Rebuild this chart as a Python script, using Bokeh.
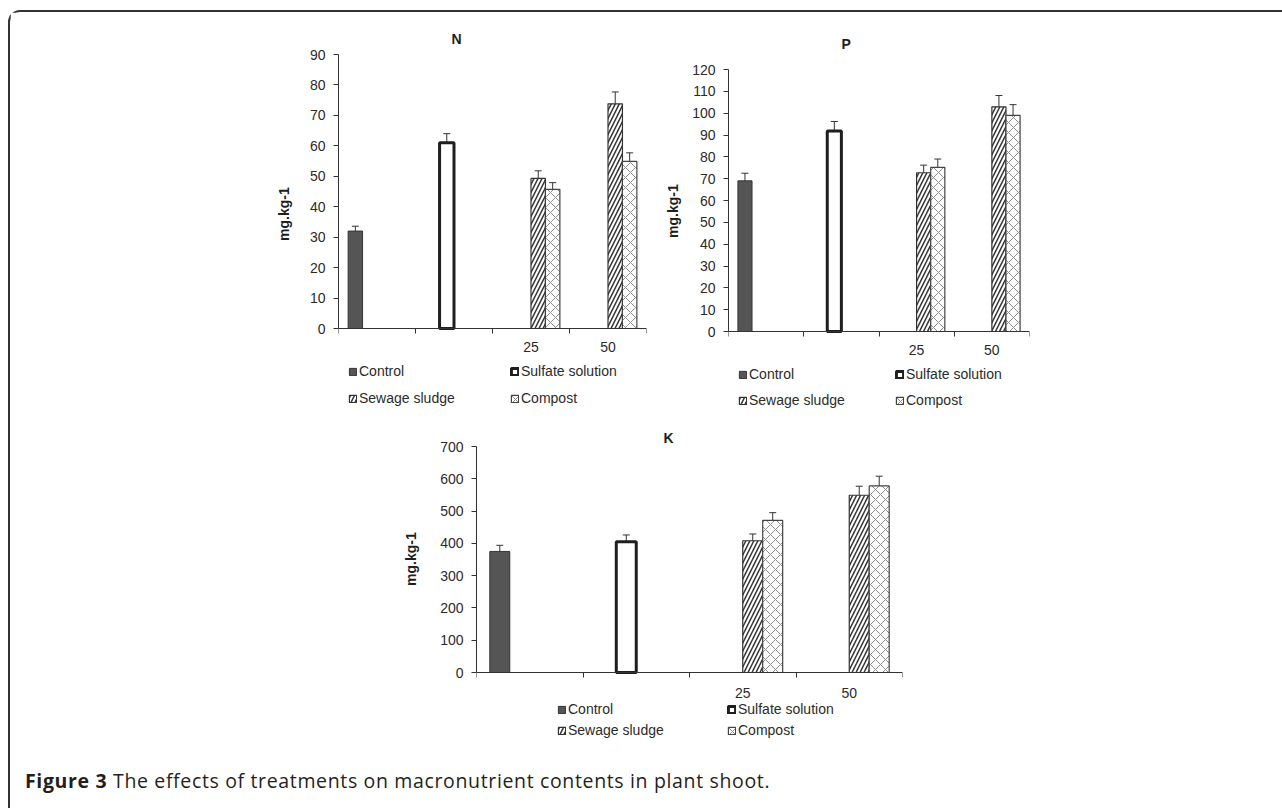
import pandas as pd
from bokeh.plotting import figure
from bokeh.models import (ColumnDataSource, Whisker, TeeHead, FixedTicker, SingleIntervalTicker,
                          Legend, LegendItem, Div, Range1d, Title)
from bokeh.layouts import row, column
from bokeh.embed import file_html
from bokeh.resources import INLINE

nan = float("nan")

# ---------------- data ----------------
categories = ["", "", "25", "50"]
series = ["Control", "Sulfate solution", "Sewage sludge", "Compost"]

# N (mg.kg-1)
n_control = [32.0, nan, nan, nan]
n_sulfate = [nan, 61.0, nan, nan]
n_sewage = [nan, nan, 49.3, 73.8]
n_compost = [nan, nan, 45.7, 54.9]
n_control_err = [1.6, nan, nan, nan]
n_sulfate_err = [nan, 3.0, nan, nan]
n_sewage_err = [nan, nan, 2.5, 3.9]
n_compost_err = [nan, nan, 2.2, 2.8]

# P (mg.kg-1)
p_control = [69.0, nan, nan, nan]
p_sulfate = [nan, 91.8, nan, nan]
p_sewage = [nan, nan, 72.7, 102.9]
p_compost = [nan, nan, 75.2, 99.0]
p_control_err = [3.5, nan, nan, nan]
p_sulfate_err = [nan, 4.4, nan, nan]
p_sewage_err = [nan, nan, 3.5, 5.2]
p_compost_err = [nan, nan, 3.8, 4.9]

# K (mg.kg-1)
k_control = [375.0, nan, nan, nan]
k_sulfate = [nan, 405.0, nan, nan]
k_sewage = [nan, nan, 408.0, 549.0]
k_compost = [nan, nan, 471.0, 578.0]
k_control_err = [19.0, nan, nan, nan]
k_sulfate_err = [nan, 21.0, nan, nan]
k_sewage_err = [nan, nan, 21.0, 28.0]
k_compost_err = [nan, nan, 24.0, 30.0]

# ---------------- styles ----------------
FONT = "Liberation Sans"
TXT = "#2b2b2b"
BAR_W = 0.1875
bar_styles = {
    "Control": dict(fill_color="#555555", line_color="#333333", line_width=1),
    "Sulfate solution": dict(fill_color="white", line_color="#1e1e1e", line_width=3),
    "Sewage sludge": dict(fill_color="white", line_color="#333333", line_width=1.2,
                          hatch_pattern="right_diagonal_line", hatch_color="#333333",
                          hatch_weight=1.5, hatch_scale=8),
    "Compost": dict(fill_color="white", line_color="#444444", line_width=1.2,
                    hatch_pattern="diagonal_cross", hatch_color="#8f8f8f",
                    hatch_weight=1, hatch_scale=10),
}


def y_range_for(ymax, px_zero, px_max, frame_top, frame_bottom):
    # range so that 0 and ymax land at the wanted pixel rows inside a taller frame
    per_px = ymax / float(px_zero - px_max)
    return Range1d(-(frame_bottom - px_zero) * per_px, ymax + (px_max - frame_top) * per_px)


def make_chart(title, vals, errs, ymax, ystep, width, height, mb, geom, title_offset,
               title_standoff, ylab, xlab_standoff, leg):
    yr = y_range_for(ymax, *geom)
    p = figure(width=width, height=height, x_range=Range1d(0, len(categories)), y_range=yr,
               output_backend="svg", toolbar_location=None,
               min_border_left=mb[0], min_border_right=mb[1], min_border_top=mb[2],
               min_border_bottom=mb[3])
    p.outline_line_color = None
    p.grid.grid_line_color = None
    p.background_fill_color = "white"
    p.border_fill_color = "white"

    rows_all = []
    items = []
    for si, (name, v, e) in enumerate(zip(series, vals, errs)):
        df = pd.DataFrame({"cat": range(len(categories)), "top": v, "err": e}).dropna()
        df["x"] = df["cat"] + 0.5 + (si - 1.5) * BAR_W
        df["upper"] = df["top"] + df["err"]
        df["lower"] = df["top"] - df["err"]
        rows_all.append(df)
        r = p.vbar(x="x", top="top", bottom=0, width=BAR_W, source=ColumnDataSource(df),
                   **bar_styles[name])
        items.append(LegendItem(label=name, renderers=[r]))

    wsrc = ColumnDataSource(pd.concat(rows_all))
    p.add_layout(Whisker(base="x", upper="upper", lower="lower", source=wsrc, dimension="height",
                         line_color="#333333", line_width=1,
                         upper_head=TeeHead(size=7, line_color="#333333", line_width=1),
                         lower_head=TeeHead(size=7, line_color="#333333", line_width=1)))

    # axes
    p.yaxis.ticker = SingleIntervalTicker(interval=ystep)
    p.yaxis.bounds = (0, ymax)
    p.xaxis.ticker = FixedTicker(ticks=[i + 0.5 for i in range(len(categories))],
                                 minor_ticks=list(range(len(categories) + 1)))
    p.xaxis.major_label_overrides = {i + 0.5: c for i, c in enumerate(categories)}
    p.xaxis.fixed_location = 0
    for ax in (p.xaxis[0], p.yaxis[0]):
        ax.axis_line_color = "#333333"
        ax.axis_line_width = 1
        ax.major_label_text_font = FONT
        ax.major_label_text_font_size = "14px"
        ax.major_label_text_color = TXT
    p.xaxis.major_tick_line_color = None
    p.xaxis.major_tick_out = 0
    p.xaxis.major_tick_in = 0
    p.xaxis.minor_tick_line_color = "#333333"
    p.xaxis.minor_tick_out = 5
    p.xaxis.minor_tick_in = 0
    p.xaxis.major_label_standoff = xlab_standoff
    p.yaxis.major_tick_line_color = "#333333"
    p.yaxis.major_tick_out = 5
    p.yaxis.major_tick_in = 0
    p.yaxis.minor_tick_line_color = None
    p.yaxis.major_label_standoff = 8

    p.title.text = title
    p.title.text_font = FONT
    p.title.text_font_size = "14px"
    p.title.text_font_style = "bold"
    p.title.text_color = "#1e1e1e"
    p.title.align = "left"
    p.title.offset = title_offset
    p.title.standoff = title_standoff

    ytitle = Title(text="mg.kg-1", align="left", offset=ylab[0], standoff=ylab[1],
                   text_font=FONT, text_font_size="14px", text_font_style="bold",
                   text_color="#1e1e1e")
    p.add_layout(ytitle, "left")

    legend = Legend(items=items, orientation="horizontal", ncols=2,
                    location=(leg["dx"], leg["dy"]), margin=0, padding=0,
                    spacing=leg["spacing"], glyph_width=9, glyph_height=9,
                    label_width=leg["label_width"], label_height=16, label_standoff=2,
                    label_text_font=FONT, label_text_font_size="14px", label_text_color=TXT,
                    border_line_color=None, background_fill_alpha=0)
    p.add_layout(legend)
    return p


pN = make_chart("N",
                [n_control, n_sulfate, n_sewage, n_compost],
                [n_control_err, n_sulfate_err, n_sewage_err, n_compost_err],
                90, 10, 638, 402, (328, 2, 42, 2), (328, 54, 54, 412), 113, 16,
                (171.5, 30), 8,
                dict(dx=10, dy=6, spacing=11, label_width=140))
pP = make_chart("P",
                [p_control, p_sulfate, p_sewage, p_compost],
                [p_control_err, p_sulfate_err, p_sewage_err, p_compost_err],
                120, 10, 412, 402, (80, 31, 42, 2), (331, 69, 54, 412), 113, 6,
                (174.5, 18), 8,
                dict(dx=10, dy=4, spacing=10, label_width=136))
pK = make_chart("K",
                [k_control, k_sulfate, k_sewage, k_compost],
                [k_control_err, k_sulfate_err, k_sewage_err, k_compost_err],
                700, 100, 910, 330, (466, 18, 32, 2), (672, 446, 446, 742), 187, 2,
                (156.5, 38), 10,
                dict(dx=81, dy=4, spacing=5, label_width=154))

caption = Div(text=("<div style=\"margin-left:10px;margin-top:18px;font-family:'Open Sans';"
                    "font-size:19.5px;letter-spacing:0.65px;color:#231f20;white-space:nowrap\">"
                    "<b>Figure 3</b> The effects of treatments on macronutrient contents in plant shoot.</div>"),
              width=1262, height=56)

layout = column(row(pN, pP), row(pK), caption,
                styles={"border-top": "2px solid #333333", "border-left": "2px solid #333333",
                        "border-top-left-radius": "12px", "background": "white",
                        "margin-left": "8px", "margin-top": "10px"})

open("out.html", "w").write(file_html(layout, INLINE))
